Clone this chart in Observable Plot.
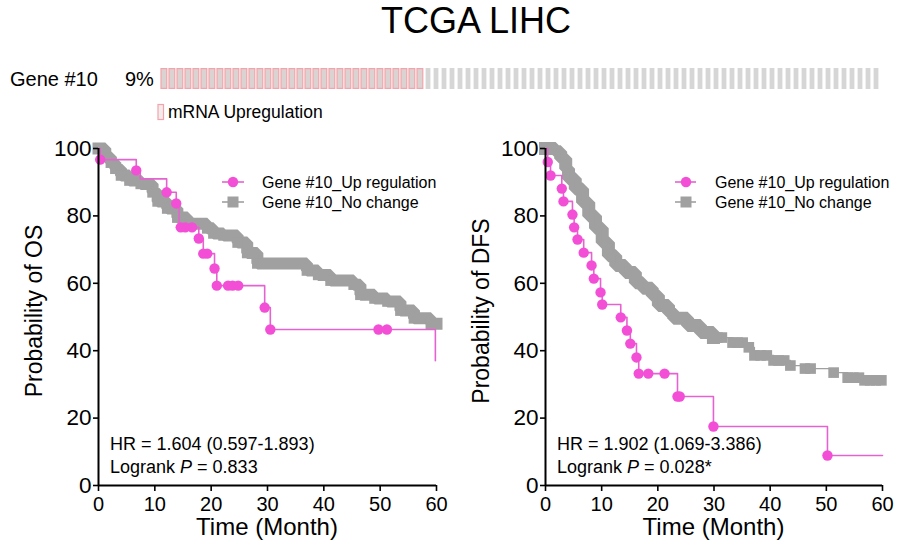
<!DOCTYPE html>
<html><head><meta charset="utf-8">
<script src="https://cdn.jsdelivr.net/npm/d3@7"></script>
<script src="https://cdn.jsdelivr.net/npm/@observablehq/plot@0.6"></script>
<style>
body{margin:0;background:#fff;}
#root{position:relative;width:906px;height:554px;overflow:hidden;background:#fff;}
.abs{position:absolute;}
</style></head><body><div id="root"></div>
<script>
const FONT = '"Liberation Sans", Arial, Helvetica, sans-serif';
const PINK = "#f24fd6", PINK_LINE = "#e463cf", GRAY = "#a0a0a0", GRAY_DOT = "#a0a0a0";

// ---- text ----
const titleText = "TCGA LIHC";
const geneName = "Gene #10";
const alteredPct = "9%";
const alterationLabel = "mRNA Upregulation";
const seriesNames = ["Gene #10_Up regulation", "Gene #10_No change"];
const xTitle = "Time (Month)";
const yTitles = ["Probability of OS", "Probability of DFS"];
const hrTexts = ["HR = 1.604 (0.597-1.893)", "HR = 1.902 (1.069-3.386)"];
const pTexts = [" = 0.833", " = 0.028*"];
const xTicks = [0, 10, 20, 30, 40, 50, 60];
const yTicks = [0, 20, 40, 60, 80, 100];

// ---- oncoprint ----
const alteredCount = 33;
const unalteredCount = 57;

// ---- OS (time, survival %) ----
const osUpSteps = [[0,100],[0.3,96.7],[6.7,93.5],[7.4,91],[12.1,87],[13.8,83.7],[14.3,76.6],[17.8,73.3],[18.6,68.8],[20.6,64.4],[21.0,59.3],[29.5,52.8],[30.5,46.3],[59.8,37]];
const osUpCensor = [0.3,6.7,12.1,13.8,14.6,15.4,16.6,17.8,18.6,19.3,20.6,21.0,23.0,23.8,24.8,29.5,30.5,49.7,51.2];
const osNcSteps = [[0,100],[1.2,97.5],[2.2,95.8],[3,94],[4,92],[5.5,90.5],[7.5,89.5],[9.6,87],[10.5,84.3],[12.2,82.2],[14,79.5],[15.8,77.7],[19.3,76.3],[20.4,74.8],[22.2,74.2],[24.7,72.1],[26.4,69],[28.2,65.9],[37,63.8],[39,62.5],[41.2,60.8],[45.3,59.6],[46.5,56.6],[49,55.5],[51.3,54.6],[53.6,51.9],[56,49.6],[59,48],[60,48]];
const osNcCensor = [1.2,2.2,3,4,5.5,7.5,9.6,10.5,12.2,14,15.8,19.3,20.4,22.2,24.7,26.4,28.2,37,39,41.2,45.3,46.5,49,51.3,53.6,56,59,60];

// ---- DFS (time, survival %) ----
const dfsUpSteps = [[0,100],[0.4,96],[0.9,92],[2.9,88.1],[3.2,84.3],[4.8,80.4],[5.1,76.6],[5.7,73],[6.8,69.1],[8.2,65.3],[8.6,61.4],[9.8,57.3],[10.1,53.7],[13.4,49.9],[14.5,46],[15.1,42.1],[16.2,38],[16.6,33.2],[23.5,26.4],[29.9,17.5],[50.2,8.9],[60,8.9]];
const dfsUpCensor = [0.4,0.9,2.9,3.2,4.8,5.1,5.7,6.8,8.2,8.6,9.8,10.1,13.4,14.5,15.1,16.2,16.6,18.3,21.2,23.5,23.9,29.9,50.2];
const dfsNcSteps = [[0,100],[1.8,99],[2.7,97],[3.6,94],[4.1,91],[5.3,88],[6.6,84],[7.7,80],[8.9,76.3],[10.1,72.1],[11.2,68.2],[12.5,65.3],[14.2,63.2],[16,60.2],[17.3,58.5],[19,56.4],[20.1,53.4],[21.9,51.3],[22.8,49.6],[25.3,47.5],[27.6,45.4],[29.9,43.9],[33.3,42.4],[36.2,41],[37.2,38.6],[40.6,37.1],[43.6,35.6],[46.2,34.7],[51.3,33.5],[53.8,32],[56,31.2],[60,31.2]];
const dfsNcCensor = [30.6,31.4,33.3,34.2,35.1,36.2,37.2,38.3,39.4,40.6,41.5,42.5,43.6,46.2,47.2,51.3,53.8,54.8,55.8,56.8,57.8,58.8,59.8];

function stepAt(steps, t) {
  let v = steps[0][1];
  for (const [s, p] of steps) { if (s <= t) v = p; else break; }
  return v;
}

const root = document.getElementById("root");
function place(node, left, top) {
  const d = document.createElement("div");
  d.className = "abs"; d.style.left = left + "px"; d.style.top = top + "px";
  d.appendChild(node); root.appendChild(d);
}

// Oncoprint
const samples = [
  ...d3.range(alteredCount).map(i => ({i, status: "Up"})),
  ...d3.range(unalteredCount).map(i => ({i: alteredCount + i, status: "None"}))
];
const onco = Plot.plot({
  width: 906, height: 36, marginLeft: 158, marginRight: 24, marginTop: 8, marginBottom: 7,
  x: {type: "band", domain: samples.map(d => d.i), padding: 0, axis: null},
  y: {type: "band", domain: [geneName], padding: 0, axis: null},
  style: {background: "none"},
  marks: [
    Plot.cell(samples.filter(d => d.status === "Up"), {x: "i", y: () => geneName, fill: "#dad3d2", stroke: "#f3a3ab", strokeWidth: 1.2, insetLeft: 1, insetRight: 1.2, insetTop: 0.6, insetBottom: 0.6}),
    Plot.cell(samples.filter(d => d.status === "None"), {x: "i", y: () => geneName, fill: "#d6d6d6", insetLeft: 1.6, insetRight: 1.6})
  ]
});
place(onco, 0, 60);

function km(upSteps, upCensor, ncSteps, ncCensor, bandEnd, bandWidth, mLeft, mRight) {
  const upDots = upCensor.map(t => [t, stepAt(upSteps, t)]);
  const ncDots = ncCensor.map(t => [t, stepAt(ncSteps, t)]);
  return Plot.plot({
    width: 453, height: 424, marginLeft: mLeft, marginRight: mRight, marginTop: 18, marginBottom: 69,
    x: {domain: [0, 60]}, y: {domain: [0, 100]},
    style: {fontFamily: FONT, color: "#000", background: "none", overflow: "visible"},
    marks: [
      Plot.line(ncSteps.filter(d => d[0] <= bandEnd), {curve: "step-after", stroke: GRAY, strokeWidth: bandWidth, strokeLinejoin: "miter", strokeLinecap: "square"}),
      Plot.line(ncSteps, {curve: "step-after", stroke: GRAY, strokeWidth: 1.3}),
      Plot.dot(ncDots, {symbol: "square", r: 6, fill: GRAY_DOT, stroke: "none"}),
      Plot.line(upSteps, {curve: "step-after", stroke: PINK_LINE, strokeWidth: 1.6}),
      Plot.dot(upDots, {r: 5.2, fill: PINK, stroke: "none"}),
      Plot.ruleX([0], {stroke: "#000", strokeWidth: 2}),
      Plot.ruleY([0], {stroke: "#000", strokeWidth: 2}),
      Plot.axisX({ticks: xTicks, tickFormat: d => d, tickSize: 6, tickPadding: 5, fontSize: 20, strokeWidth: 1.6, label: null}),
      Plot.axisY({ticks: yTicks, tickFormat: d => d, tickSize: 5, tickPadding: 2, fontSize: 22.5, strokeWidth: 1.6, label: null})
    ]
  });
}

place(km(osUpSteps, osUpCensor, osNcSteps, osNcCensor, 60, 12, 98, 17), 0, 130);
place(km(dfsUpSteps, dfsUpCensor, dfsNcSteps, dfsNcCensor, 30, 13, 92, 24), 453, 130);

// Overlay text
const NS = "http://www.w3.org/2000/svg";
const ov = document.createElementNS(NS, "svg");
ov.setAttribute("width", 906); ov.setAttribute("height", 554);
ov.setAttribute("class", "abs"); ov.style.left = "0px"; ov.style.top = "0px";
ov.style.fontFamily = FONT; ov.style.pointerEvents = "none";
root.appendChild(ov);
function txt(x, y, s, size, opts = {}) {
  const t = document.createElementNS(NS, "text");
  t.setAttribute("x", x); t.setAttribute("y", y);
  t.setAttribute("font-size", size); t.setAttribute("fill", "#000");
  if (opts.anchor) t.setAttribute("text-anchor", opts.anchor);
  if (opts.transform) t.setAttribute("transform", opts.transform);
  t.textContent = s; ov.appendChild(t); return t;
}
function el(name, attrs) {
  const e = document.createElementNS(NS, name);
  for (const k in attrs) e.setAttribute(k, attrs[k]);
  ov.appendChild(e); return e;
}

txt(476, 33, titleText, 36, {anchor: "middle"});
txt(10, 86, geneName, 20);
txt(125, 86, alteredPct, 20);
el("rect", {x: 158, y: 104.5, width: 5.5, height: 15, fill: "#f3ecec", stroke: "#f3a3ab", "stroke-width": 1.2});
txt(168, 118, alterationLabel, 17.5);

const panels = [
  {x0: 98, x1: 436, yLabX: 42, legLine: [222, 244], legMark: 233, legText: 262, hrX: 110},
  {x0: 545, x1: 882, yLabX: 489, legLine: [675, 696], legMark: 686, legText: 715, hrX: 557}
];
panels.forEach((p, i) => {
  txt((p.x0 + p.x1) / 2, 535, xTitle, 24, {anchor: "middle"});
  txt(0, 0, yTitles[i], 23, {anchor: "middle", transform: `translate(${p.yLabX},311) rotate(-90)`});
  // legend
  el("line", {x1: p.legLine[0], x2: p.legLine[1], y1: 182, y2: 182, stroke: PINK_LINE, "stroke-width": 1.6});
  el("circle", {cx: p.legMark, cy: 182, r: 5.2, fill: PINK});
  txt(p.legText, 188, seriesNames[0], 16);
  el("line", {x1: p.legLine[0], x2: p.legLine[1], y1: 202, y2: 202, stroke: GRAY, "stroke-width": 1.6});
  el("rect", {x: p.legMark - 5.5, y: 196.5, width: 11, height: 11, fill: GRAY_DOT});
  txt(p.legText, 208, seriesNames[1], 16);
  // stats
  txt(p.hrX, 450, hrTexts[i], 18);
  const t = txt(p.hrX, 473, "Logrank ", 18);
  const ts = document.createElementNS(NS, "tspan");
  ts.setAttribute("font-style", "italic"); ts.textContent = "P"; t.appendChild(ts);
  const ts2 = document.createElementNS(NS, "tspan"); ts2.textContent = pTexts[i]; t.appendChild(ts2);
});
</script>
</body></html>
